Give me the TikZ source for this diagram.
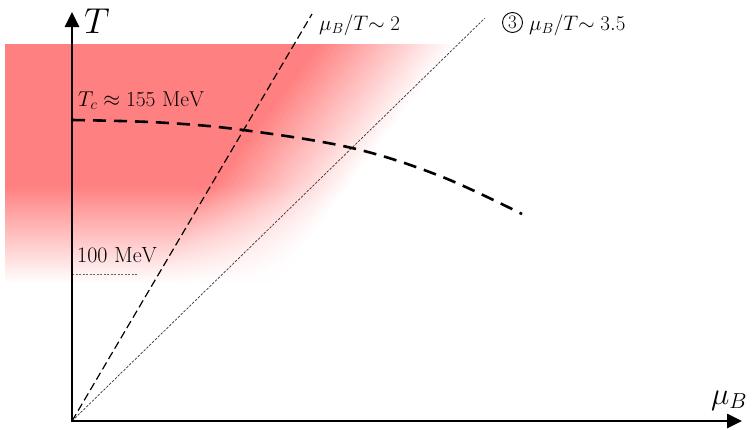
\RequirePackage{fix-cm}
\documentclass[tikz,border=0pt]{standalone}
\usepackage{fontspec}
\usetikzlibrary{arrows.meta,fadings}
\definecolor{qgp}{RGB}{255,128,128}
\tikzfading[name=fadeS, top color=transparent!100, bottom color=transparent!0]
\tikzset{
  axis/.style={line width=2.6pt, -{Triangle[length=15pt,width=14pt]}},
  lbl/.style={inner sep=0pt, text=black},
  crit/.style={line width=2.6pt, dash pattern=on 13pt off 8pt},
  ratioA/.style={line width=1.2pt, dash pattern=on 8pt off 4pt},
  ratioB/.style={line width=0.7pt, draw=black!80, dash pattern=on 2.5pt off 1.5pt},
  tick/.style={line width=0.9pt, draw=black!60, dash pattern=on 2pt off 1.5pt},
  circnum/.style={circle, draw, line width=0.9pt, inner sep=0pt, minimum size=20pt, font=\fontsize{19}{22}\selectfont}
}
\begin{document}
\begin{tikzpicture}[x=1pt,y=-1pt]
\useasboundingbox (0,0) rectangle (755,429);
% red region with fades
\begin{scope}
  \clip (5,44) rectangle (460,290);
  \begin{scope}[shift={(0pt,-429pt)}, x=1pt, y=1pt, rotate=-36.87]
    \fill[qgp] (-900,-900) rectangle (25.5,900);
    \foreach \i in {0,...,53}{
      \pgfmathsetmacro{\pc}{100-(\i+0.5)*100/54}
      \fill[qgp!\pc!white] ({25+2*\i},-900) rectangle ({25+2*\i+2.4},900);
    }
  \end{scope}
\end{scope}
\fill[white, path fading=fadeS] (4,185) rectangle (461,283);
\fill[white] (4,282.5) rectangle (461,292);
% coordinates
\coordinate (O) at (72,421);
\coordinate (Ttip) at (72,12);
\coordinate (Mtip) at (742,421);
\coordinate (L1) at (312,14);
\coordinate (L2) at (485,18);
\coordinate (H0) at (72,274);
\coordinate (H1) at (137,274);
% ratio lines
\draw[ratioA] (O) -- (L1);
\draw[ratioB] (O) -- (L2);
\draw[tick] (H0) -- (H1);
% crossover curve
\draw[crit] plot[smooth, tension=0.6] coordinates {(72,120) (160,122.5) (243,130) (352,148) (440,176) (522,214)};
% axes
\draw[axis, line cap=rect] (O) -- (Ttip);
\draw[axis, line cap=rect] (O) -- (Mtip);
% labels
\node[lbl, font=\fontsize{36}{40}\selectfont] (tlab) at (97,21) {$T$};
\node[lbl, anchor=base west, font=\fontsize{31}{36}\selectfont] (mlab) at (711,404) {$\mu_B$};
\node[lbl, anchor=base west, font=\fontsize{21.5}{26}\selectfont] (tc) at (78,106) {$T_c \approx 155\ \mathrm{MeV}$};
\node[lbl, anchor=base west, font=\fontsize{22}{26}\selectfont] (hund) at (77,262) {$100\ \mathrm{MeV}$};
\node[lbl, anchor=base west, font=\fontsize{21}{25}\selectfont] (r1) at (319,30) {$\mu_B/T{\sim}\;2$};
\node[circnum] (c3) at (512.5,22.5) {3};
\node[lbl, anchor=base west, font=\fontsize{21}{25}\selectfont] (r2) at (529,30) {$\mu_B/T{\sim}\;3.5$};
\end{tikzpicture}
\end{document}
